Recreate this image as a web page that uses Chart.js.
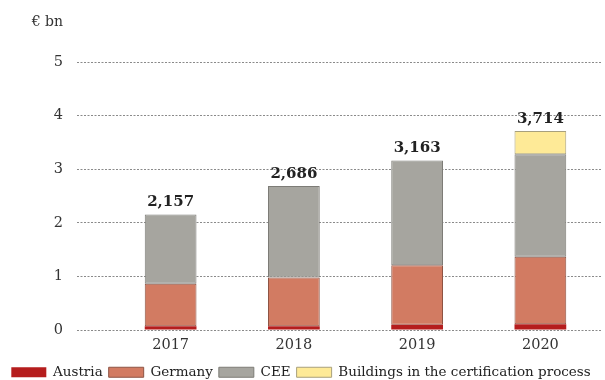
<!DOCTYPE html>
<html>
<head>
<meta charset="utf-8">
<script src="https://cdn.jsdelivr.net/npm/chart.js@4"></script>
<style>
  html, body { margin: 0; padding: 0; background: #fff; }
  #wrap { width: 605px; height: 380px; }
</style>
</head>
<body>
<div id="wrap"><canvas id="c" width="605" height="380"></canvas></div>
<script>
// Pipeline volume by region, € bn
const years = ['2017', '2018', '2019', '2020'];
const austria = [0.07, 0.07, 0.10, 0.11];
const germany = [0.795, 0.91, 1.11, 1.26];
const cee = [1.292, 1.706, 1.953, 1.91];
const certification = [0, 0, 0, 0.434];
const totals = ['2,157', '2,686', '3,163', '3,714'];
const yTicks = [0, 1, 2, 3, 4, 5];
const unitLabel = '€ bn';

const SERIF = '"DejaVu Serif", "Liberation Serif", serif';

// Total label above each stacked column + unit caption
const totalsPlugin = {
  id: 'totals',
  afterDatasetsDraw(chart) {
    const { ctx } = chart;
    const yScale = chart.scales.y;
    ctx.save();
    ctx.fillStyle = '#222';
    ctx.font = 'bold 15px ' + SERIF;
    ctx.textAlign = 'center';
    ctx.textBaseline = 'alphabetic';
    const meta = chart.getDatasetMeta(0);
    years.forEach((_, i) => {
      const sum = austria[i] + germany[i] + cee[i] + certification[i];
      const x = meta.data[i].x;
      const y = yScale.getPixelForValue(sum);
      ctx.fillText(totals[i], x, y - 8);
    });
    ctx.font = '14px ' + SERIF;
    ctx.textAlign = 'right';
    ctx.textBaseline = 'middle';
    ctx.fillStyle = '#333';
    ctx.fillText(unitLabel, chart.chartArea.left - 46, 22);
    ctx.restore();
  }
};

const common = { barPercentage: 0.42, categoryPercentage: 1.0, borderWidth: 1, borderSkipped: false };

new Chart(document.getElementById('c'), {
  type: 'bar',
  data: {
    labels: years,
    datasets: [
      { label: 'Austria', data: austria, backgroundColor: '#b51d1d', borderColor: '#7e1414', ...common, borderWidth: 0 },
      { label: 'Germany', data: germany, backgroundColor: '#d27b62', borderColor: '#8e5444', ...common },
      { label: 'CEE', data: cee, backgroundColor: '#a6a59f', borderColor: '#7d7c77', ...common },
      { label: 'Buildings in the certification process', data: certification, backgroundColor: '#feea97', borderColor: '#a8a07c', ...common }
    ]
  },
  options: {
    responsive: false,
    animation: false,
    layout: { padding: { top: 62, right: 3, left: 0, bottom: -9 } },
    scales: {
      x: {
        stacked: true,
        grid: { display: false, drawTicks: false },
        border: { display: false },
        ticks: { color: '#333', font: { family: SERIF, size: 14.5 }, padding: 6 }
      },
      y: {
        stacked: true,
        min: 0,
        max: 5,
        afterBuildTicks(scale) { scale.ticks = yTicks.map(v => ({ value: v })); },
        afterFit(scale) { scale.width = 109; },
        grid: {
          color: '#8a8a8a',
          lineWidth: 1,
          drawTicks: true,
          tickLength: 32,
          tickColor: '#8a8a8a',
          tickBorderDash: [2, 1.5]
        },
        border: { display: false, dash: [2, 1.5] },
        ticks: { color: '#333', font: { family: SERIF, size: 14.5 }, padding: 14 }
      }
    },
    plugins: {
      legend: {
        position: 'bottom',
        labels: {
          boxWidth: 35,
          boxHeight: 10,
          padding: 6,
          color: '#222',
          font: { family: SERIF, size: 13.5 }
        }
      },
      tooltip: { enabled: false }
    }
  },
  plugins: [totalsPlugin]
});
</script>
</body>
</html>
